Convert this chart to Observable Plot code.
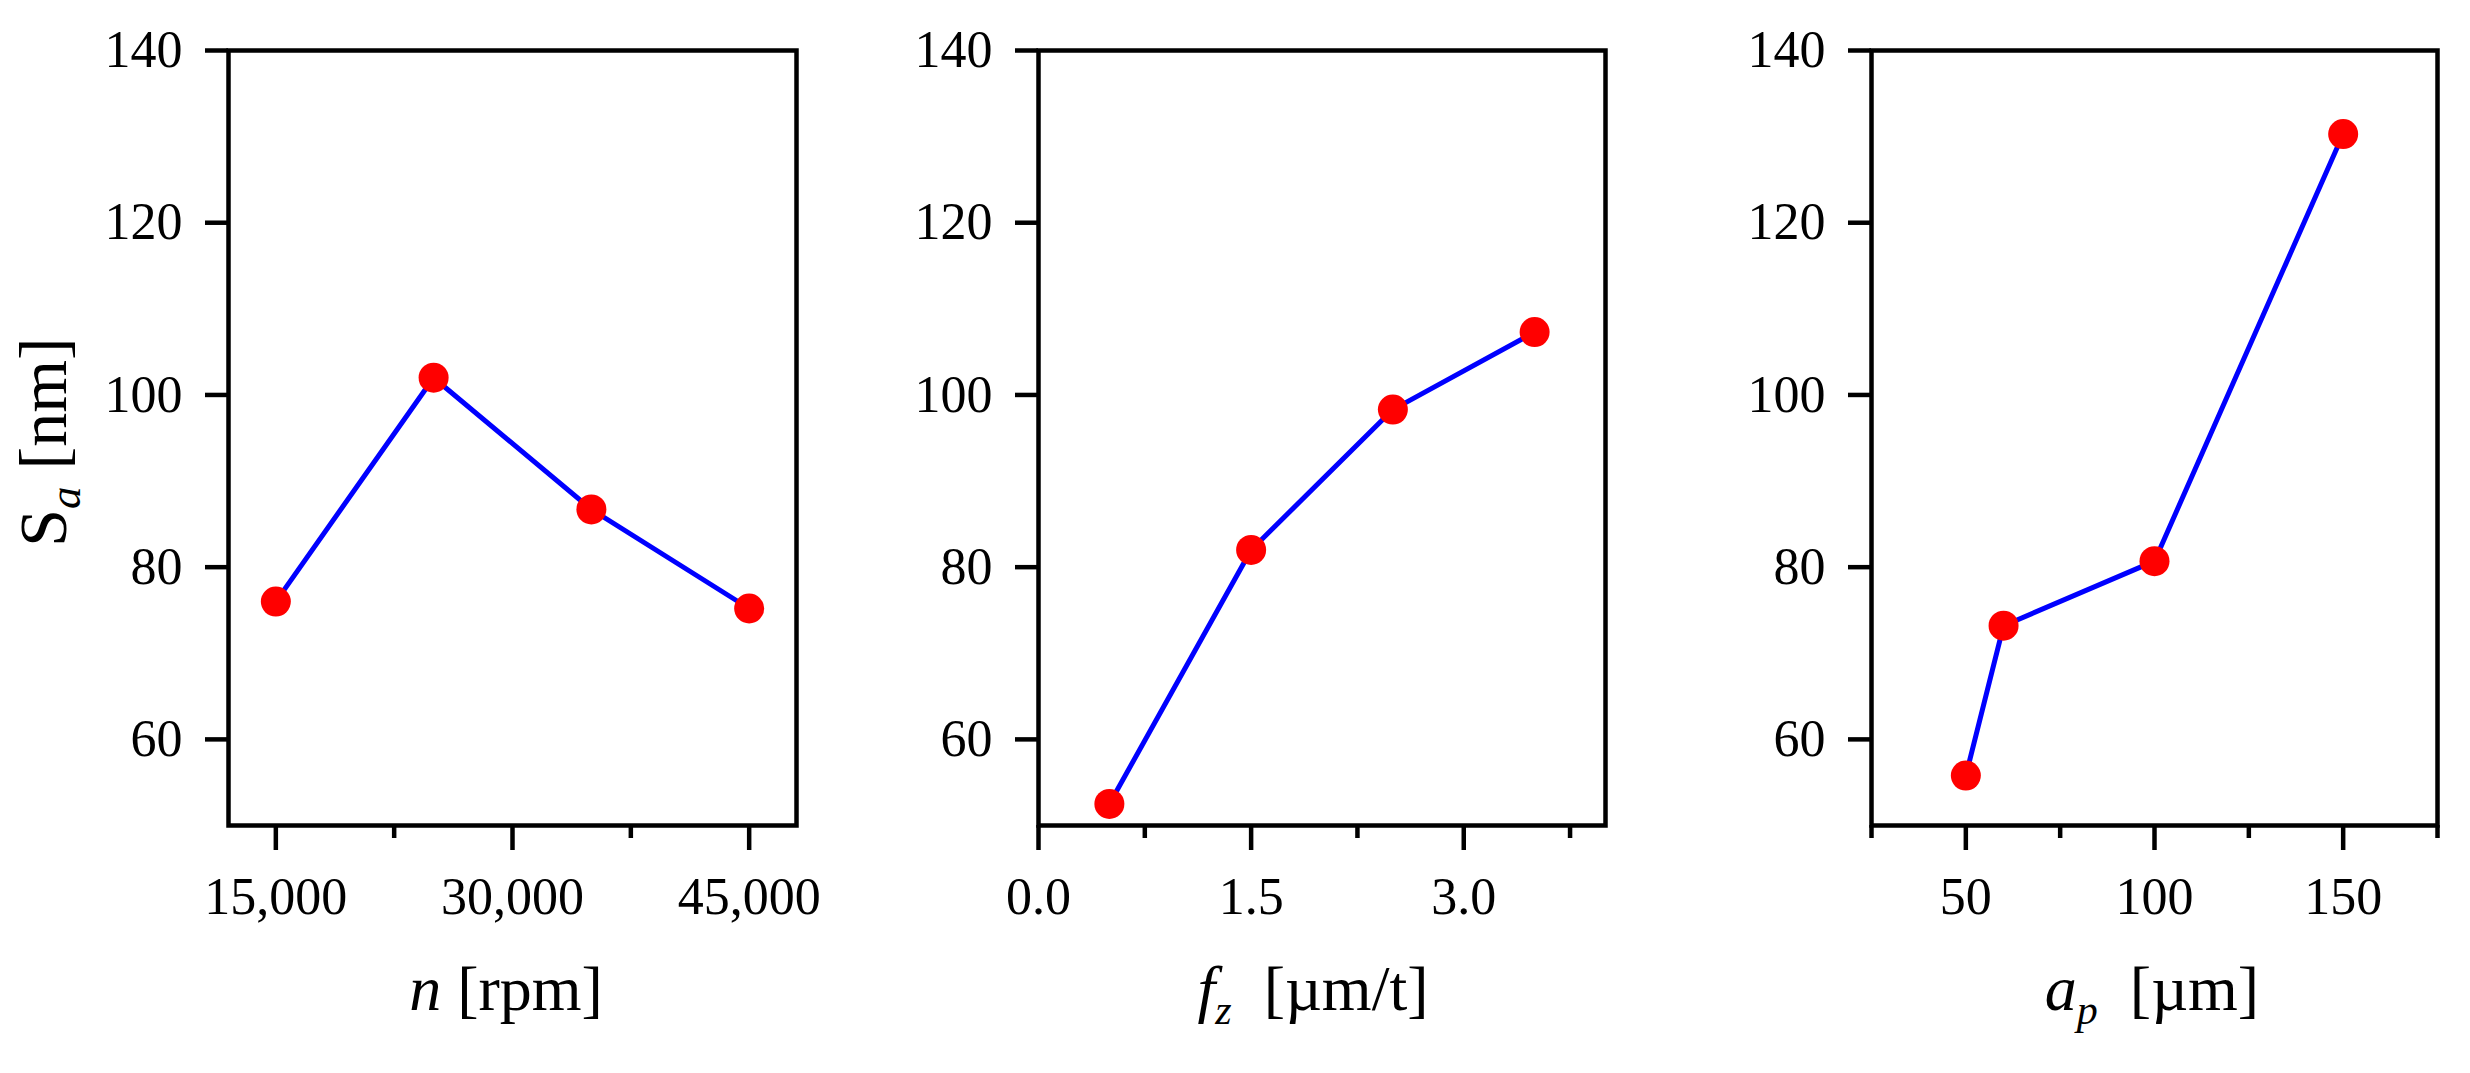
<!DOCTYPE html>
<html>
<head>
<meta charset="utf-8">
<script src="https://cdn.jsdelivr.net/npm/d3@7"></script>
<script src="https://cdn.jsdelivr.net/npm/@observablehq/plot@0.6"></script>
<style>
  html, body { margin: 0; padding: 0; background: #fff; }
  #wrap { position: relative; width: 2470px; height: 1073px; background: #fff; }
  #wrap > div { position: absolute; top: 0; }
  svg text { font-family: "Liberation Serif", "Times New Roman", serif; }
</style>
</head>
<body>
<div id="wrap">
  <div id="p1" style="left:0px;width:823px"></div>
  <div id="p2" style="left:823px;width:823px"></div>
  <div id="p3" style="left:1646px;width:824px"></div>
</div>
<script>
// ---- data ----
const speed = [15000, 25000, 35000, 45000];
const saSpeed = [76.0, 102.0, 86.7, 75.2];

const feed = [0.5, 1.5, 2.5, 3.5];
const saFeed = [52.5, 82.0, 98.3, 107.3];

const depth = [50, 60, 100, 150];
const saDepth = [55.8, 73.2, 80.7, 130.3];

const yTicks = [60, 80, 100, 120, 140];
const speedTicks = [15000, 30000, 45000];
const speedMinor = [22500, 37500];
const feedTicks = [0.0, 1.5, 3.0];
const feedMinor = [0.75, 2.25, 3.75];
const depthTicks = [50, 100, 150];
const depthMinor = [25, 75, 125, 175];

const yDomain = [50, 140];

function panel({xs, ys, xDomain, major, minor, fmt, width, mLeft, mRight}) {
  const data = xs.map((x, i) => ({x, y: ys[i]}));
  return Plot.plot({
    width, height: 1073,
    marginLeft: mLeft, marginRight: mRight, marginTop: 50, marginBottom: 248,
    style: {fontFamily: "Liberation Serif", fontSize: "52px", color: "black", background: "white", overflow: "visible"},
    x: {domain: xDomain, label: null},
    y: {domain: yDomain, label: null},
    marks: [
      Plot.axisY(yTicks, {tickSize: 23, tickPadding: 23, strokeWidth: 4.5, fontSize: 52, label: null}),
      Plot.axisX(major, {tickSize: 25, tickPadding: 27, tickFormat: fmt, strokeWidth: 4.5, fontSize: 52, label: null}),
      Plot.axisX(minor, {tickSize: 13, text: null, strokeWidth: 4.5, label: null}),
      Plot.frame({stroke: "black", strokeWidth: 4.5}),
      Plot.line(data, {x: "x", y: "y", stroke: "#0000ff", strokeWidth: 5}),
      Plot.dot(data, {x: "x", y: "y", r: 15, fill: "#ff0000", stroke: "none"})
    ]
  });
}

const c1 = panel({xs: speed, ys: saSpeed, xDomain: [12000, 48000], major: speedTicks, minor: speedMinor,
  fmt: d3.format(","), width: 823, mLeft: 228, mRight: 27});
const c2 = panel({xs: feed, ys: saFeed, xDomain: [0, 4], major: feedTicks, minor: feedMinor,
  fmt: d3.format(".1f"), width: 823, mLeft: 215, mRight: 41});
const c3 = panel({xs: depth, ys: saDepth, xDomain: [25, 175], major: depthTicks, minor: depthMinor,
  fmt: d3.format("d"), width: 824, mLeft: 225, mRight: 33});

document.getElementById("p1").appendChild(c1);
document.getElementById("p2").appendChild(c2);
document.getElementById("p3").appendChild(c3);

// ---- axis titles ----
function title(svg, x, y, parts, rotate, size = 64) {
  const t = d3.select(svg).append("text")
    .attr("text-anchor", "middle")
    .attr("font-family", "Liberation Serif")
    .attr("font-size", size)
    .attr("fill", "black")
    .style("white-space", "pre")
    .attr("transform", rotate ? `translate(${x},${y}) rotate(-90)` : `translate(${x},${y})`);
  for (const p of parts) {
    const s = t.append("tspan").text(p.t);
    if (p.i) s.attr("font-style", "italic");
    if (p.sub) s.attr("font-size", Math.round(size * 0.66)).attr("dy", 14);
    if (p.up) s.attr("dy", -14);
  }
}
title(c1, 66, 442, [{t: "S"}, {t: "a", i: true, sub: true}, {t: " [nm]", up: true}], true, 68);
title(c1, 506, 1010, [{t: "n", i: true}, {t: " [rpm]"}]);
title(c2, 490, 1010, [{t: "f", i: true}, {t: "z", i: true, sub: true}, {t: "  [µm/t]", up: true}]);
title(c3, 506, 1010, [{t: "a", i: true}, {t: "p", i: true, sub: true}, {t: "  [µm]", up: true}]);
</script>
</body>
</html>
